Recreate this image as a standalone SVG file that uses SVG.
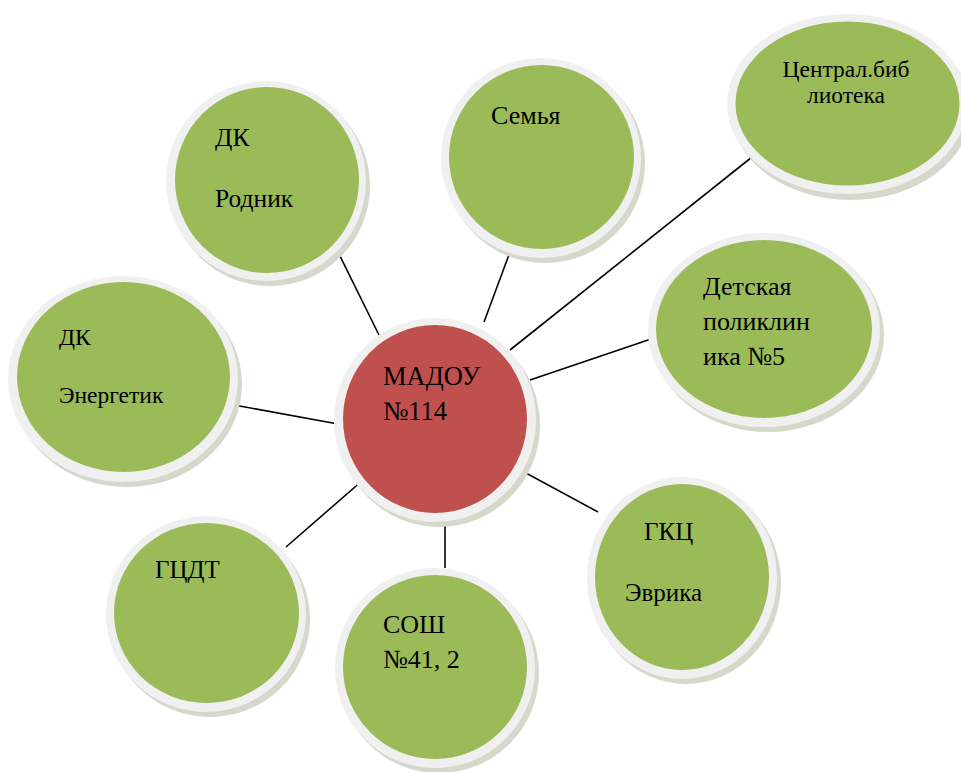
<svg xmlns="http://www.w3.org/2000/svg" width="961" height="772" viewBox="0 0 961 772">
<style>
.sh{fill:#d5d8cb}
.rim{fill:#f0f0f0}
.g{fill:#9bbb59}
.r{fill:#c0504d}
.c line{stroke:#000;stroke-width:1.6}
</style>
<rect width="961" height="772" fill="#fff"/>
<g class="c">
<line x1="338" y1="252" x2="379" y2="335"/>
<line x1="510" y1="252" x2="484" y2="322"/>
<line x1="752" y1="157" x2="510" y2="350"/>
<line x1="657" y1="337" x2="530" y2="380"/>
<line x1="234" y1="405" x2="338" y2="424"/>
<line x1="286" y1="547" x2="363" y2="480"/>
<line x1="445" y1="520" x2="445" y2="568"/>
<line x1="513" y1="466" x2="598" y2="512"/>
</g>
<g font-family="Liberation Serif, Times New Roman, serif" fill="#000">
<g id="rodnik">
<ellipse class="sh" cx="270" cy="186" rx="100" ry="100"/>
<ellipse class="rim" cx="266" cy="181" rx="100" ry="100"/>
<ellipse class="g" cx="267" cy="180" rx="92" ry="93"/>
<text x="215" y="146" font-size="25.5">ДК</text>
<text x="215" y="207" font-size="25.5">Родник</text>
</g>
<g id="semya">
<ellipse class="sh" cx="545" cy="163" rx="100" ry="100"/>
<ellipse class="rim" cx="541" cy="158" rx="100" ry="100"/>
<ellipse class="g" cx="541.5" cy="157" rx="92.5" ry="92"/>
<text x="491" y="124" font-size="26">Семья</text>
</g>
<g id="library">
<ellipse class="sh" cx="851" cy="110" rx="120" ry="90"/>
<ellipse class="rim" cx="847" cy="104" rx="120" ry="90"/>
<ellipse class="g" cx="847.5" cy="103.5" rx="112" ry="82"/>
<text x="846" y="77" font-size="23.5" text-anchor="middle">Централ.биб</text>
<text x="846" y="103" font-size="23.5" text-anchor="middle">лиотека</text>
</g>
<g id="poliklinika">
<ellipse class="sh" cx="768" cy="335" rx="116" ry="97"/>
<ellipse class="rim" cx="764" cy="330" rx="116" ry="97"/>
<ellipse class="g" cx="764" cy="329" rx="108" ry="89"/>
<text x="703" y="295" font-size="26">Детская</text>
<text x="703" y="330" font-size="26">поликлин</text>
<text x="703" y="365" font-size="26">ика №5</text>
</g>
<g id="energetik">
<ellipse class="sh" cx="127" cy="384" rx="115" ry="103"/>
<ellipse class="rim" cx="123" cy="379" rx="115" ry="103"/>
<ellipse class="g" cx="123.5" cy="377" rx="106.5" ry="95"/>
<text x="59" y="345" font-size="23.5">ДК</text>
<text x="59" y="403" font-size="23.5">Энергетик</text>
</g>
<g id="madou">
<ellipse class="sh" cx="439" cy="425" rx="101" ry="102"/>
<ellipse class="rim" cx="435" cy="420" rx="101" ry="102"/>
<ellipse class="r" cx="435" cy="419" rx="92" ry="94"/>
<text x="383" y="385" font-size="26.5">МАДОУ</text>
<text x="383" y="420" font-size="26.5">№114</text>
</g>
<g id="gcdt">
<ellipse class="sh" cx="210" cy="619" rx="100" ry="98"/>
<ellipse class="rim" cx="206" cy="614" rx="100" ry="98"/>
<ellipse class="g" cx="206.5" cy="613" rx="92.5" ry="90"/>
<text x="155" y="578" font-size="25">ГЦДТ</text>
</g>
<g id="sosh">
<ellipse class="sh" cx="439" cy="673" rx="100" ry="100"/>
<ellipse class="rim" cx="435" cy="668" rx="100" ry="100"/>
<ellipse class="g" cx="435" cy="667" rx="92" ry="92"/>
<text x="383" y="633" font-size="26">СОШ</text>
<text x="383" y="668" font-size="26">№41, 2</text>
</g>
<g id="gkc">
<ellipse class="sh" cx="686" cy="583" rx="95" ry="101"/>
<ellipse class="rim" cx="682" cy="578" rx="95" ry="101"/>
<ellipse class="g" cx="682" cy="577" rx="87" ry="93"/>
<text x="644" y="540" font-size="25">ГКЦ</text>
<text x="625" y="601" font-size="25">Эврика</text>
</g>
</g>
</svg>
